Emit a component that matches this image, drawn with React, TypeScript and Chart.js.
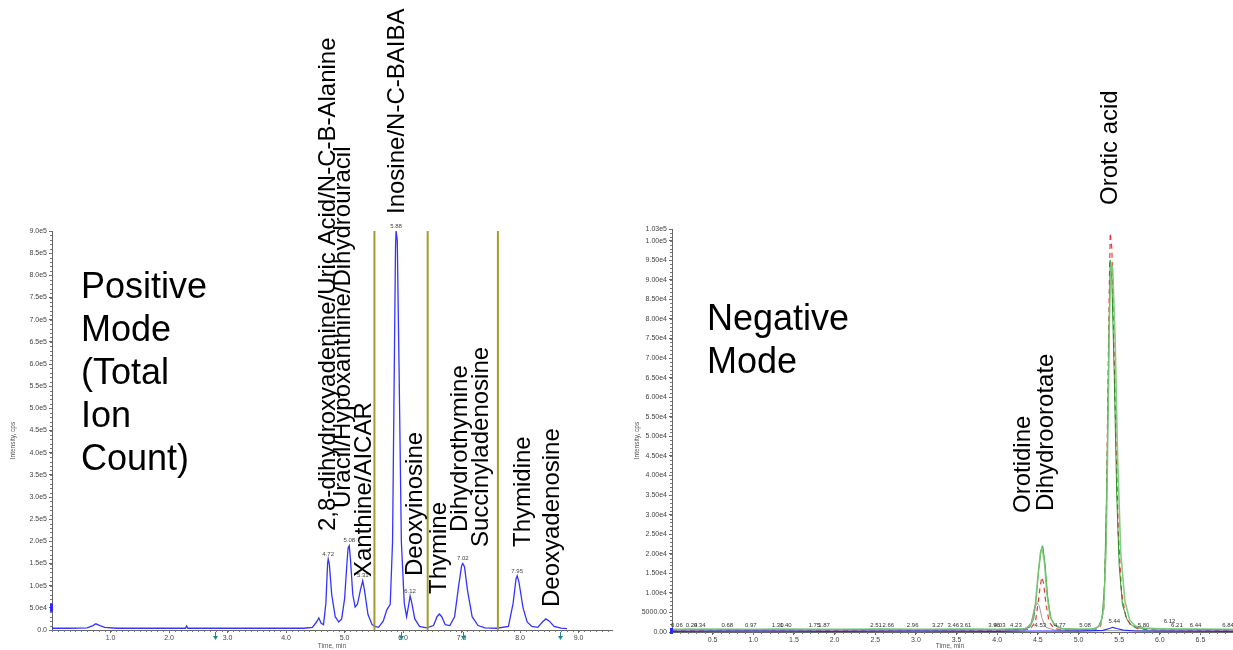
import React, { useEffect, useRef } from "react";
import { Chart, registerables } from "chart.js";

Chart.register(...registerables);

const FONT = '"Liberation Sans", Arial, Helvetica, sans-serif';

// ---------------- Positive mode (Total Ion Count) ----------------
const posTimes = [
  0.0, 0.3, 0.6, 0.7, 0.75, 0.82, 0.9, 1.1, 1.5, 2.0, 2.28, 2.3, 2.32, 2.8, 3.5, 4.0, 4.3,
  4.45, 4.52, 4.56, 4.6, 4.64, 4.68, 4.71, 4.72, 4.74, 4.78, 4.84, 4.9, 4.95, 5.0, 5.04,
  5.06, 5.08, 5.1, 5.14, 5.18, 5.22, 5.27, 5.31, 5.34, 5.4, 5.47, 5.52, 5.58, 5.66, 5.72,
  5.78, 5.82, 5.85, 5.87, 5.88, 5.9, 5.93, 5.97, 6.02, 6.06, 6.1, 6.12, 6.15, 6.2, 6.28,
  6.4, 6.52, 6.58, 6.62, 6.66, 6.72, 6.8, 6.88, 6.95, 7.0, 7.02, 7.05, 7.1, 7.18, 7.28,
  7.4, 7.6, 7.8, 7.88, 7.93, 7.95, 7.98, 8.05, 8.12, 8.2, 8.3, 8.38, 8.44, 8.5, 8.58, 8.7, 8.8,
];
const posIntensity = [
  4000, 4000, 5000, 10000, 14000, 10000, 6000, 4000, 4000, 4000, 4000, 9000, 4000, 4000, 4000, 4000, 4000,
  6000, 18000, 27000, 15000, 12000, 60000, 150000, 160000, 148000, 80000, 30000, 18000, 25000, 70000, 150000,
  185000, 190000, 160000, 80000, 52000, 58000, 90000, 111000, 90000, 35000, 12000, 8000, 6000, 20000, 45000,
  58000, 200000, 600000, 860000, 900000, 880000, 600000, 200000, 60000, 30000, 60000, 77000, 60000, 25000, 8000,
  5000, 10000, 30000, 36000, 30000, 12000, 10000, 30000, 100000, 145000, 150000, 142000, 90000, 30000, 10000,
  5000, 4000, 8000, 60000, 115000, 122000, 108000, 50000, 18000, 8000, 6000, 18000, 25000, 20000, 8000, 4000, 3000,
];
const posPeakTimes = [4.72, 5.08, 5.31, 5.88, 6.12, 7.02, 7.95];
const posPeakValues = [160000, 190000, 111000, 900000, 77000, 150000, 122000];
const posPeakLabels = ["4.72", "5.08", "5.31", "5.88", "6.12", "7.02", "7.95"];
const posYTicks = [
  0, 50000, 100000, 150000, 200000, 250000, 300000, 350000, 400000, 450000, 500000,
  550000, 600000, 650000, 700000, 750000, 800000, 850000, 900000,
];
const posYTickLabels = [
  "0.0", "5.0e4", "1.0e5", "1.5e5", "2.0e5", "2.5e5", "3.0e5", "3.5e5", "4.0e5", "4.5e5", "5.0e5",
  "5.5e5", "6.0e5", "6.5e5", "7.0e5", "7.5e5", "8.0e5", "8.5e5", "9.0e5",
];
const posXTicks = [1, 2, 3, 4, 5, 6, 7, 8, 9];
const posXTickLabels = ["1.0", "2.0", "3.0", "4.0", "5.0", "6.0", "7.0", "8.0", "9.0"];
const posDividerTimes = [5.51, 6.42, 7.62];
const posArrowTimes = [2.78, 5.97, 7.03, 8.68];
const posCompounds = [
  "2,8-dihydroxyadenine/Uric Acid/N-C-B-Alanine",
  "Uracil/Hypoxanthine/Dihydrouracil",
  "Xanthine/AICAR",
  "Inosine/N-C-BAIBA",
  "Deoxyinosine",
  "Thymine",
  "Dihydrothymine",
  "Succinyladenosine",
  "Thymidine",
  "Deoxyadenosine",
];
const posTitleLines = ["Positive", "Mode", "(Total", "Ion", "Count)"];

// ---------------- Negative mode ----------------
const negGreenTimes = [
  0, 0.2, 0.5, 0.8, 1.0, 1.3, 1.6, 2.0, 2.3, 2.6, 3.0, 3.3, 3.6, 4.0, 4.3, 4.4, 4.45, 4.48, 4.51,
  4.54, 4.56, 4.59, 4.62, 4.66, 4.72, 4.8, 5.0, 5.15, 5.24, 5.29, 5.32, 5.35, 5.37, 5.39, 5.41,
  5.44, 5.47, 5.5, 5.54, 5.6, 5.66, 5.75, 5.9, 6.2, 6.5, 6.9,
];
const negGreenValues = [
  500, 700, 550, 650, 600, 700, 550, 650, 600, 700, 650, 600, 700, 650, 700, 1200, 3500, 9000, 16000,
  21000, 22000, 17000, 9000, 3500, 1500, 800, 650, 700, 1200, 3500, 12000, 40000, 70000, 95000, 90000,
  65000, 35000, 17000, 7000, 3000, 1600, 1000, 800, 700, 650, 600,
];
const negLightGreenTimes = [
  0, 0.5, 1.0, 1.5, 2.0, 2.5, 3.0, 3.5, 4.0, 4.35, 4.42, 4.47, 4.5, 4.53, 4.55, 4.58, 4.61, 4.65,
  4.7, 4.8, 5.0, 5.2, 5.27, 5.31, 5.34, 5.36, 5.38, 5.4, 5.42, 5.45, 5.48, 5.52, 5.57, 5.63, 5.7,
  5.8, 6.0, 6.5, 6.9,
];
const negLightGreenValues = [
  700, 750, 700, 750, 700, 750, 700, 750, 700, 900, 2000, 7000, 14000, 20000, 21500, 18000, 10000, 4000,
  1800, 900, 750, 800, 1800, 6000, 22000, 50000, 80000, 94000, 93000, 75000, 45000, 20000, 8000, 3000, 1500,
  1000, 800, 750, 700,
];
const negRedTimes = [
  0, 0.5, 1.0, 1.5, 2.0, 2.5, 3.0, 3.5, 4.0, 4.4, 4.47, 4.5, 4.53, 4.55, 4.57, 4.6, 4.64, 4.7,
  4.8, 5.0, 5.2, 5.27, 5.31, 5.34, 5.36, 5.38, 5.39, 5.41, 5.43, 5.46, 5.49, 5.53, 5.58, 5.64,
  5.72, 5.85, 6.2, 6.9,
];
const negRedValues = [
  400, 450, 400, 450, 400, 450, 400, 450, 400, 700, 2500, 7000, 12000, 14000, 12500, 7000, 2500, 900,
  500, 450, 500, 1500, 6000, 25000, 60000, 90000, 102000, 98000, 80000, 50000, 25000, 10000, 4000, 1800,
  900, 600, 450, 400,
];
const negGrayTimes = [0, 1.0, 2.0, 3.0, 4.0, 4.35, 4.42, 4.46, 4.49, 4.52, 4.55, 4.6, 4.7, 5.0, 6.0, 6.9];
const negGrayValues = [300, 350, 300, 350, 300, 500, 2500, 6000, 7500, 6500, 3500, 1200, 500, 350, 300, 300];
const negBlueTimes = [0, 1.0, 2.0, 3.0, 4.0, 4.5, 5.0, 5.3, 5.38, 5.42, 5.47, 5.55, 5.7, 6.0, 6.9];
const negBlueValues = [150, 200, 150, 200, 150, 250, 200, 400, 900, 1200, 900, 500, 250, 200, 150];
const negRtLabels = [
  "0.06", "0.24", "0.34", "0.68", "0.97", "1.30", "1.40", "1.75", "1.87", "2.51", "2.66", "2.96",
  "3.27", "3.46", "3.61", "3.96", "4.03", "4.23", "4.53", "4.77", "5.08", "5.44", "5.80", "6.12",
  "6.21", "6.44", "6.84",
];
const negRtTimes = [
  0.06, 0.24, 0.34, 0.68, 0.97, 1.3, 1.4, 1.75, 1.87, 2.51, 2.66, 2.96, 3.27, 3.46, 3.61, 3.96,
  4.03, 4.23, 4.53, 4.77, 5.08, 5.44, 5.8, 6.12, 6.21, 6.44, 6.84,
];
const negYTicks = [
  0, 5000, 10000, 15000, 20000, 25000, 30000, 35000, 40000, 45000, 50000, 55000, 60000, 65000,
  70000, 75000, 80000, 85000, 90000, 95000, 100000, 103000,
];
const negYTickLabels = [
  "0.00", "5000.00", "1.00e4", "1.50e4", "2.00e4", "2.50e4", "3.00e4", "3.50e4", "4.00e4", "4.50e4",
  "5.00e4", "5.50e4", "6.00e4", "6.50e4", "7.00e4", "7.50e4", "8.00e4", "8.50e4", "9.00e4", "9.50e4",
  "1.00e5", "1.03e5",
];
const negXTicks = [0.5, 1, 1.5, 2, 2.5, 3, 3.5, 4, 4.5, 5, 5.5, 6, 6.5];
const negXTickLabels = ["0.5", "1.0", "1.5", "2.0", "2.5", "3.0", "3.5", "4.0", "4.5", "5.0", "5.5", "6.0", "6.5"];
const negCompounds = ["Orotic acid", "Orotidine", "Dihydroorotate"];
const negTitleLines = ["Negative", "Mode"];

// ---------------- layout (pixel positions of annotations) ----------------
const posCompoundPos = [
  [328, 531], [343, 508], [364, 577], [397, 214], [415, 576], [439, 594], [460, 532], [481, 547], [523, 547], [552, 607],
];
const negCompoundPos = [
  [490, 205], [403, 513], [426, 511],
];

const pts = (t: number[], v: number[]) => t.map((x, i) => ({ x, y: v[i] }));

function rotText(ctx: CanvasRenderingContext2D, text: string, cx: number, bottom: number, size: number, color = "#000") {
  ctx.save();
  ctx.translate(cx, bottom);
  ctx.rotate(-Math.PI / 2);
  ctx.font = `${size}px ${FONT}`;
  ctx.fillStyle = color;
  ctx.textAlign = "left";
  ctx.textBaseline = "middle";
  ctx.fillText(text, 0, 0);
  ctx.restore();
}

function minorTicks(ctx: CanvasRenderingContext2D, chart: any, yStep: number, yMax: number, xStep: number, xMax: number) {
  const xs = chart.scales.x;
  const ys = chart.scales.y;
  const ca = chart.chartArea;
  ctx.save();
  ctx.strokeStyle = "#777";
  ctx.lineWidth = 1;
  ctx.beginPath();
  for (let v = 0; v <= yMax + 1e-6; v += yStep) {
    const y = Math.round(ys.getPixelForValue(v)) + 0.5;
    ctx.moveTo(ca.left - 2, y);
    ctx.lineTo(ca.left, y);
  }
  for (let v = 0; v <= xMax + 1e-6; v += xStep) {
    const x = Math.round(xs.getPixelForValue(v)) + 0.5;
    ctx.moveTo(x, ca.bottom);
    ctx.lineTo(x, ca.bottom + 2);
  }
  ctx.stroke();
  ctx.restore();
}

function xScaleOpts(min: number, max: number, ticks: number[], labels: string[], height: number) {
  return {
    type: "linear" as const,
    min,
    max,
    afterFit: (s: any) => { s.height = height; },
    afterBuildTicks: (s: any) => { s.ticks = ticks.map((value) => ({ value })); },
    ticks: {
      callback: (v: any) => { const i = ticks.indexOf(Number(v)); return i >= 0 ? labels[i] : ""; },
      font: { size: 7, family: FONT },
      color: "#444",
      padding: 1,
      maxRotation: 0,
      autoSkip: false,
    },
    grid: { drawOnChartArea: false, tickLength: 3, color: "#666" },
    border: { color: "#666", width: 1 },
  };
}

function yScaleOpts(min: number, max: number, ticks: number[], labels: string[], width: number) {
  return {
    type: "linear" as const,
    min,
    max,
    afterFit: (s: any) => { s.width = width; },
    afterBuildTicks: (s: any) => { s.ticks = ticks.map((value) => ({ value })); },
    ticks: {
      callback: (v: any) => { const i = ticks.indexOf(Number(v)); return i >= 0 ? labels[i] : ""; },
      font: { size: 7, family: FONT },
      color: "#444",
      padding: 2,
      autoSkip: false,
    },
    grid: { drawOnChartArea: false, tickLength: 3, color: "#666" },
    border: { color: "#666", width: 1 },
  };
}

const posPlugin = {
  id: "posAnno",
  afterDraw(chart: any) {
    const ctx: CanvasRenderingContext2D = chart.ctx;
    const xs = chart.scales.x;
    const ys = chart.scales.y;
    const ca = chart.chartArea;
    // dividers
    ctx.save();
    ctx.strokeStyle = "#a49c2c";
    ctx.lineWidth = 2;
    posDividerTimes.forEach((t) => {
      const x = xs.getPixelForValue(t);
      ctx.beginPath();
      ctx.moveTo(x, ca.top);
      ctx.lineTo(x, ca.bottom);
      ctx.stroke();
    });
    ctx.restore();
    minorTicks(ctx, chart, 10000, 900000, 0.1, 9.5);
    // peak labels
    ctx.save();
    ctx.font = `6px ${FONT}`;
    ctx.fillStyle = "#444";
    ctx.textAlign = "center";
    ctx.textBaseline = "bottom";
    posPeakTimes.forEach((t, i) => {
      ctx.fillText(posPeakLabels[i], xs.getPixelForValue(t), ys.getPixelForValue(posPeakValues[i]) - 2);
    });
    ctx.restore();
    // arrows
    ctx.save();
    ctx.strokeStyle = "#1b8c8c";
    ctx.fillStyle = "#1b8c8c";
    posArrowTimes.forEach((t) => {
      const x = Math.round(xs.getPixelForValue(t)) + 0.5;
      ctx.beginPath();
      ctx.moveTo(x, ca.bottom + 2);
      ctx.lineTo(x, ca.bottom + 8);
      ctx.stroke();
      ctx.beginPath();
      ctx.moveTo(x - 2.5, ca.bottom + 6);
      ctx.lineTo(x + 2.5, ca.bottom + 6);
      ctx.lineTo(x, ca.bottom + 10);
      ctx.closePath();
      ctx.fill();
    });
    ctx.restore();
    // blue marker on y axis
    ctx.save();
    ctx.fillStyle = "#2a2aff";
    ctx.fillRect(ca.left - 2, ys.getPixelForValue(50000) - 4, 3, 8);
    ctx.restore();
    // axis titles
    ctx.save();
    ctx.fillStyle = "#555";
    ctx.font = `6.5px ${FONT}`;
    ctx.textAlign = "center";
    ctx.textBaseline = "middle";
    ctx.fillText("Time, min", (ca.left + ca.right) / 2, 646);
    ctx.translate(13, (ca.top + ca.bottom) / 2 + 10);
    ctx.rotate(-Math.PI / 2);
    ctx.fillText("Intensity, cps", 0, 0);
    ctx.restore();
    // big title
    ctx.save();
    ctx.fillStyle = "#000";
    ctx.font = `36px ${FONT}`;
    ctx.textAlign = "left";
    ctx.textBaseline = "middle";
    posTitleLines.forEach((l, i) => ctx.fillText(l, 81, 288 + i * 43));
    ctx.restore();
    // compound labels
    posCompounds.forEach((c, i) => rotText(ctx, c, posCompoundPos[i][0], posCompoundPos[i][1], 24));
  },
};

const negPlugin = {
  id: "negAnno",
  afterDraw(chart: any) {
    const ctx: CanvasRenderingContext2D = chart.ctx;
    const xs = chart.scales.x;
    const ca = chart.chartArea;
    minorTicks(ctx, chart, 1000, 103000, 0.1, 6.9);
    // retention time labels
    ctx.save();
    ctx.font = `6px ${FONT}`;
    ctx.fillStyle = "#333";
    ctx.textAlign = "center";
    ctx.textBaseline = "bottom";
    negRtTimes.forEach((t, i) => {
      const raised = negRtLabels[i] === "5.44" || negRtLabels[i] === "6.12";
      ctx.fillText(negRtLabels[i], xs.getPixelForValue(t), ca.bottom - (raised ? 8 : 4));
    });
    ctx.restore();
    // blue marker at origin
    ctx.save();
    ctx.fillStyle = "#2a2aff";
    ctx.fillRect(ca.left - 2, ca.bottom - 4, 3, 6);
    ctx.restore();
    // axis titles
    ctx.save();
    ctx.fillStyle = "#555";
    ctx.font = `6.5px ${FONT}`;
    ctx.textAlign = "center";
    ctx.textBaseline = "middle";
    ctx.fillText("Time, min", 330, 646);
    ctx.translate(17, (ca.top + ca.bottom) / 2 + 10);
    ctx.rotate(-Math.PI / 2);
    ctx.fillText("Intensity, cps", 0, 0);
    ctx.restore();
    // big title
    ctx.save();
    ctx.fillStyle = "#000";
    ctx.font = `36px ${FONT}`;
    ctx.textAlign = "left";
    ctx.textBaseline = "middle";
    negTitleLines.forEach((l, i) => ctx.fillText(l, 87, 320 + i * 43));
    ctx.restore();
    negCompounds.forEach((c, i) => rotText(ctx, c, negCompoundPos[i][0], negCompoundPos[i][1], 24));
  },
};

export default function App() {
  const leftRef = useRef<HTMLCanvasElement>(null);
  const rightRef = useRef<HTMLCanvasElement>(null);

  useEffect(() => {
    const left = new Chart(leftRef.current!, {
      type: "line",
      data: {
        datasets: [
          {
            data: pts(posTimes, posIntensity),
            borderColor: "rgba(30,30,255,0.9)",
            borderWidth: 1.3,
            pointRadius: 0,
            tension: 0,
          },
        ],
      },
      options: {
        animation: false,
        responsive: false,
        maintainAspectRatio: false,
        layout: { padding: { top: 231, right: 8, left: 0, bottom: 0 } },
        plugins: { legend: { display: false }, tooltip: { enabled: false } },
        scales: {
          x: xScaleOpts(0, 9.57, posXTicks, posXTickLabels, 20),
          y: yScaleOpts(0, 900000, posYTicks, posYTickLabels, 52),
        },
      } as any,
      plugins: [posPlugin],
    });

    const right = new Chart(rightRef.current!, {
      type: "line",
      data: {
        datasets: [
          { data: pts(negBlueTimes, negBlueValues), borderColor: "#2a2aff", borderWidth: 1.2, pointRadius: 0 },
          { data: pts(negGrayTimes, negGrayValues), borderColor: "rgba(150,150,150,0.9)", borderWidth: 1, pointRadius: 0 },
          { data: pts(negLightGreenTimes, negLightGreenValues), borderColor: "rgba(120,200,120,0.9)", borderWidth: 1.6, pointRadius: 0 },
          { data: pts(negGreenTimes, negGreenValues), borderColor: "rgba(20,140,20,0.9)", borderWidth: 1, pointRadius: 0 },
          { data: pts(negRedTimes, negRedValues), borderColor: "rgba(230,40,30,0.9)", borderWidth: 1.2, borderDash: [5, 4], pointRadius: 0 },
        ],
      },
      options: {
        animation: false,
        responsive: false,
        maintainAspectRatio: false,
        layout: { padding: { top: 229, right: 0, left: 0, bottom: 0 } },
        plugins: { legend: { display: false }, tooltip: { enabled: false } },
        scales: {
          x: xScaleOpts(0, 6.9, negXTicks, negXTickLabels, 18),
          y: yScaleOpts(0, 103000, negYTicks, negYTickLabels, 52),
        },
      } as any,
      plugins: [negPlugin],
    });

    return () => {
      left.destroy();
      right.destroy();
    };
  }, []);

  return (
    <div style={{ position: "fixed", left: 0, top: 0, width: 1233, height: 650, background: "#fff", overflow: "hidden" }}>
      <canvas ref={leftRef} width={620} height={650} style={{ position: "absolute", left: 0, top: 0, width: 620, height: 650 }} />
      <canvas ref={rightRef} width={613} height={650} style={{ position: "absolute", left: 620, top: 0, width: 613, height: 650 }} />
    </div>
  );
}
